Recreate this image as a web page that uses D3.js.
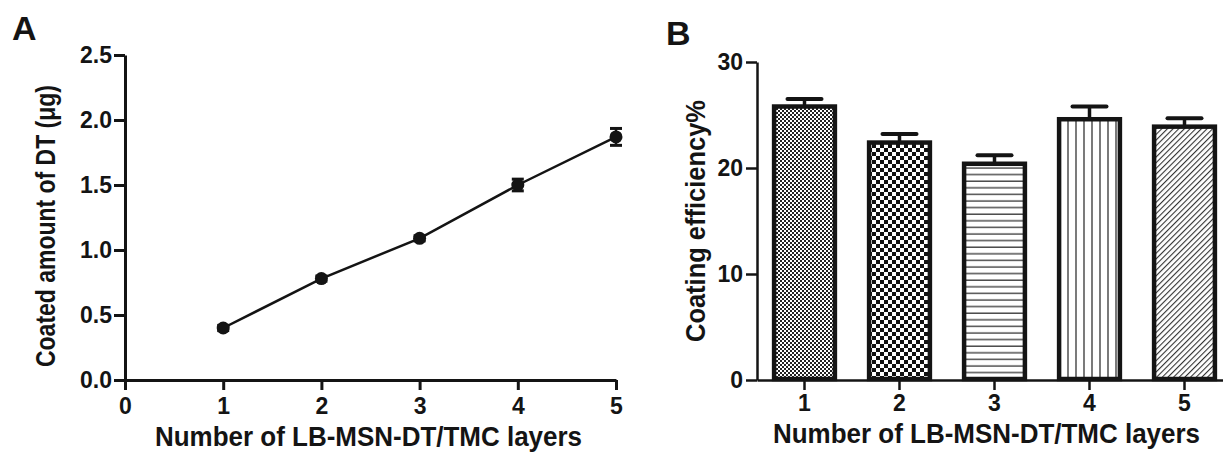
<!DOCTYPE html>
<html>
<head>
<meta charset="utf-8">
<script src="https://cdn.jsdelivr.net/npm/d3@7"></script>
<style>
  body { margin: 0; background: #fff; }
  svg text { font-family: "Liberation Sans", Arial, sans-serif; font-weight: bold; fill: #141414; }
</style>
</head>
<body>
<div id="chart"></div>
<script>
// Panel A: coated amount vs number of layers
const layersA = [1, 2, 3, 4, 5];
const coatedAmount = [0.40, 0.78, 1.09, 1.50, 1.87];
const coatedErr = [0.02, 0.02, 0.02, 0.045, 0.065];
const ticksAx = [0, 1, 2, 3, 4, 5];
const ticksAy = [0, 0.5, 1.0, 1.5, 2.0, 2.5];

// Panel B: coating efficiency per layer count
const layersB = ["1", "2", "3", "4", "5"];
const efficiency = [25.8, 22.4, 20.4, 24.6, 23.9];
const efficiencyErr = [0.7, 0.8, 0.8, 1.2, 0.8];
const ticksBy = [0, 10, 20, 30];
const patternIds = ["fineCheck", "coarseCheck", "hLines", "vLines", "diag"];

const W = 1223, H = 455;
const ink = "#141414";

const svg = d3.select("#chart").append("svg")
  .attr("width", W).attr("height", H);

svg.append("rect").attr("width", W).attr("height", H).attr("fill", "#fff");

// hatch patterns for the bars
const defs = svg.append("defs");

const p1 = defs.append("pattern").attr("id", "fineCheck")
  .attr("patternUnits", "userSpaceOnUse").attr("width", 4).attr("height", 4);
p1.append("rect").attr("width", 4).attr("height", 4).attr("fill", "#fff");
p1.append("rect").attr("width", 2).attr("height", 2).attr("fill", "#222");
p1.append("rect").attr("x", 2).attr("y", 2).attr("width", 2).attr("height", 2).attr("fill", "#222");

const p2 = defs.append("pattern").attr("id", "coarseCheck")
  .attr("patternUnits", "userSpaceOnUse").attr("width", 8).attr("height", 8);
p2.append("rect").attr("width", 8).attr("height", 8).attr("fill", "#fff");
p2.append("rect").attr("width", 4).attr("height", 4).attr("fill", "#111");
p2.append("rect").attr("x", 4).attr("y", 4).attr("width", 4).attr("height", 4).attr("fill", "#111");

const p3 = defs.append("pattern").attr("id", "hLines")
  .attr("patternUnits", "userSpaceOnUse").attr("width", 8).attr("height", 6.6);
p3.append("rect").attr("width", 8).attr("height", 6.6).attr("fill", "#fff");
p3.append("line").attr("x1", 0).attr("x2", 8).attr("y1", 3).attr("y2", 3)
  .attr("stroke", "#333").attr("stroke-width", 1.3);

const p4 = defs.append("pattern").attr("id", "vLines")
  .attr("patternUnits", "userSpaceOnUse").attr("width", 8).attr("height", 8);
p4.append("rect").attr("width", 8).attr("height", 8).attr("fill", "#fff");
p4.append("line").attr("x1", 4).attr("x2", 4).attr("y1", 0).attr("y2", 8)
  .attr("stroke", "#333").attr("stroke-width", 1.3);

const p5 = defs.append("pattern").attr("id", "diag")
  .attr("patternUnits", "userSpaceOnUse").attr("width", 4).attr("height", 4)
  .attr("patternTransform", "rotate(45)");
p5.append("rect").attr("width", 4).attr("height", 4).attr("fill", "#fff");
p5.append("line").attr("x1", 0).attr("x2", 0).attr("y1", 0).attr("y2", 4)
  .attr("stroke", "#333").attr("stroke-width", 2.2);

function styleAxis(g, width, fontSize) {
  g.select(".domain").attr("stroke", ink).attr("stroke-width", width);
  g.selectAll(".tick line").attr("stroke", ink).attr("stroke-width", width);
  g.selectAll(".tick text").attr("fill", ink)
    .style("font-size", fontSize + "px").style("font-family", null);
  g.attr("font-family", null);
}

// ---------- Panel A ----------
const xA = d3.scaleLinear().domain([0, 5]).range([125, 616]);
const yA = d3.scaleLinear().domain([0, 2.5]).range([380, 55]);

const gAx = svg.append("g").attr("transform", "translate(0,380)")
  .call(d3.axisBottom(xA).tickValues(ticksAx).tickFormat(d3.format("d"))
    .tickSize(10).tickSizeOuter(0).tickPadding(8));
styleAxis(gAx, 3, 23);

const gAy = svg.append("g").attr("transform", "translate(125,0)")
  .call(d3.axisLeft(yA).tickValues(ticksAy).tickFormat(d3.format(".1f"))
    .tickSize(11).tickSizeOuter(0).tickPadding(2));
styleAxis(gAy, 3, 23);

const ptsA = layersA.map((d, i) => ({ x: d, y: coatedAmount[i], e: coatedErr[i] }));

svg.append("path").datum(ptsA)
  .attr("fill", "none").attr("stroke", ink).attr("stroke-width", 2.5)
  .attr("d", d3.line().x(d => xA(d.x)).y(d => yA(d.y)));

const errA = svg.append("g");
ptsA.forEach(d => {
  errA.append("line").attr("x1", xA(d.x)).attr("x2", xA(d.x))
    .attr("y1", yA(d.y - d.e)).attr("y2", yA(d.y + d.e))
    .attr("stroke", ink).attr("stroke-width", 2.5);
  [d.y - d.e, d.y + d.e].forEach(v => {
    errA.append("line").attr("x1", xA(d.x) - 6).attr("x2", xA(d.x) + 6)
      .attr("y1", yA(v)).attr("y2", yA(v))
      .attr("stroke", ink).attr("stroke-width", 3);
  });
});

svg.append("g").selectAll("circle").data(ptsA).enter().append("circle")
  .attr("cx", d => xA(d.x)).attr("cy", d => yA(d.y)).attr("r", 6.5)
  .attr("fill", ink);

svg.append("text").attr("x", 155).attr("y", 446)
  .attr("textLength", 427).attr("lengthAdjust", "spacingAndGlyphs")
  .style("font-size", "27px").text("Number of LB-MSN-DT/TMC layers");

svg.append("text").attr("transform", "translate(55,226) rotate(-90)")
  .attr("text-anchor", "middle")
  .attr("textLength", 282).attr("lengthAdjust", "spacingAndGlyphs")
  .style("font-size", "28px").text("Coated amount of DT (μg)");

svg.append("text").attr("x", 12).attr("y", 40)
  .style("font-size", "34px").text("A");

// ---------- Panel B ----------
const xB = d3.scaleBand().domain(layersB).range([757, 1232])
  .paddingInner(0.36).paddingOuter(0.18);
const yB = d3.scaleLinear().domain([0, 30]).range([380, 62]);

const gBx = svg.append("g").attr("transform", "translate(0,380)")
  .call(d3.axisBottom(xB).tickSize(10).tickSizeOuter(0).tickPadding(5));
styleAxis(gBx, 2.5, 23);

const gBy = svg.append("g").attr("transform", "translate(757,0)")
  .call(d3.axisLeft(yB).tickValues(ticksBy).tickFormat(d3.format("d"))
    .tickSize(11).tickSizeOuter(0).tickPadding(3));
styleAxis(gBy, 2.5, 23);

const barsB = layersB.map((d, i) => ({ k: d, v: efficiency[i], e: efficiencyErr[i], p: patternIds[i] }));

// error bars (upper half only, as in the figure)
const errB = svg.append("g");
barsB.forEach(d => {
  const cx = xB(d.k) + xB.bandwidth() / 2;
  errB.append("line").attr("x1", cx).attr("x2", cx)
    .attr("y1", yB(d.v)).attr("y2", yB(d.v + d.e))
    .attr("stroke", ink).attr("stroke-width", 3.5);
  errB.append("line").attr("x1", cx - 17).attr("x2", cx + 17)
    .attr("y1", yB(d.v + d.e)).attr("y2", yB(d.v + d.e))
    .attr("stroke", ink).attr("stroke-width", 4).attr("stroke-linecap", "round");
});

svg.append("g").selectAll("rect").data(barsB).enter().append("rect")
  .attr("x", d => xB(d.k)).attr("width", xB.bandwidth())
  .attr("y", d => yB(d.v)).attr("height", d => yB(0) - yB(d.v) - 1)
  .attr("fill", d => "url(#" + d.p + ")")
  .attr("stroke", ink).attr("stroke-width", 4.5);

svg.append("text").attr("x", 773).attr("y", 443)
  .attr("textLength", 427).attr("lengthAdjust", "spacingAndGlyphs")
  .style("font-size", "27px").text("Number of LB-MSN-DT/TMC layers");

svg.append("text").attr("transform", "translate(705,221) rotate(-90)")
  .attr("text-anchor", "middle")
  .attr("textLength", 242).attr("lengthAdjust", "spacingAndGlyphs")
  .style("font-size", "28px").text("Coating efficiency%");

svg.append("text").attr("x", 666).attr("y", 45)
  .style("font-size", "34px").text("B");
</script>
</body>
</html>
